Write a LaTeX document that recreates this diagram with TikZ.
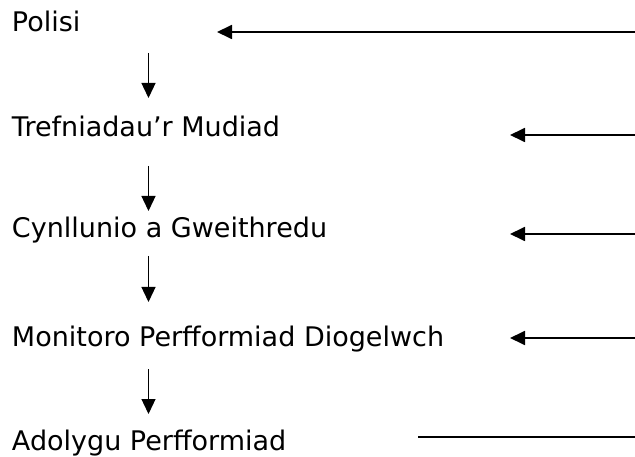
\documentclass[tikz,border=0pt]{standalone}
\usepackage{fontspec}
\setmainfont{DejaVu Sans}
\usetikzlibrary{arrows.meta}
\begin{document}
\begin{tikzpicture}[x=1pt,y=-1pt,
  lbl/.style={anchor=base west, inner sep=0pt, outer sep=0pt, font=\fontsize{27}{32}\selectfont},
  down/.style={line width=1.3pt, -{Triangle[length=15pt,width=14pt]}},
  back/.style={line width=1.8pt, -{Triangle[length=15pt,width=14pt]}},
  plainline/.style={line width=1.8pt}]
\useasboundingbox (0,0) rectangle (635,457);
% text nodes
\node[lbl] (pol) at (12,32) {Polisi};
\node[lbl] (tref) at (12,137) {Trefniadau’r Mudiad};
\node[lbl] (cyn) at (12,238) {Cynllunio a Gweithredu};
\node[lbl] (mon) at (12,346) {Monitoro Perfformiad Diogelwch};
\node[lbl] (ado) at (12,450) {Adolygu Perfformiad};
% column of the down arrows
\coordinate (col) at (148.5,0);
\draw[down, shorten <=21pt, shorten >=39pt] (pol.base -| col) -- (tref.base -| col);
\draw[down, shorten <=29pt, shorten >=27pt] (tref.base -| col) -- (cyn.base -| col);
\draw[down, shorten <=18pt, shorten >=44pt] (cyn.base -| col) -- (mon.base -| col);
\draw[down, shorten <=23pt, shorten >=36pt] (mon.base -| col) -- (ado.base -| col);
% right-hand feedback lines
\coordinate (r1) at (635,32);  \coordinate (t1) at (217,32);
\coordinate (r2) at (635,135); \coordinate (t2) at (510,135);
\coordinate (r3) at (635,234); \coordinate (t3) at (510,234);
\coordinate (r4) at (635,338); \coordinate (t4) at (510,338);
\coordinate (r5) at (635,437); \coordinate (e5) at (418,437);
\draw[back] (r1) -- (t1);
\draw[back] (r2) -- (t2);
\draw[back] (r3) -- (t3);
\draw[back] (r4) -- (t4);
\draw[plainline] (e5) -- (r5);
\end{tikzpicture}
\end{document}
